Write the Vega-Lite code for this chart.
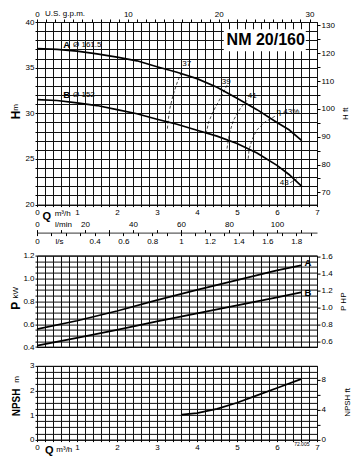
{
 "$schema": "https://vega.github.io/schema/vega-lite/v6.json",
 "padding": {"left": 9, "top": 8, "right": 0, "bottom": 0},
 "background": "white",
 "bounds": "flush",
 "spacing": 18.3,
 "config": {
  "font": "Liberation Sans",
  "view": {"stroke": "#000", "strokeWidth": 1},
  "axis": {"gridColor": "#111", "gridWidth": 1, "gridOpacity": 1, "domainColor": "#000", "tickColor": "#000", "labelColor": "#000", "labelFontSize": 8, "labelOverlap": false, "labelPadding": 1, "tickSize": 3, "titleColor": "#000", "labelFlush": false, "titleFontWeight": "normal", "titleFontSize": 8}
 },
 "datasets": {
  "curves": [
   {"panel":"H","curve":"A","Q":0,"v":37.1},{"panel":"H","curve":"A","Q":0.5,"v":37.0},{"panel":"H","curve":"A","Q":1,"v":36.8},{"panel":"H","curve":"A","Q":1.5,"v":36.5},{"panel":"H","curve":"A","Q":2,"v":36.15},{"panel":"H","curve":"A","Q":2.5,"v":35.75},{"panel":"H","curve":"A","Q":3,"v":35.1},{"panel":"H","curve":"A","Q":3.5,"v":34.5},{"panel":"H","curve":"A","Q":4,"v":33.8},{"panel":"H","curve":"A","Q":4.5,"v":32.85},{"panel":"H","curve":"A","Q":5,"v":31.65},{"panel":"H","curve":"A","Q":5.5,"v":30.4},{"panel":"H","curve":"A","Q":6,"v":29.0},{"panel":"H","curve":"A","Q":6.3,"v":28.2},{"panel":"H","curve":"A","Q":6.62,"v":27.0},
   {"panel":"H","curve":"B","Q":0,"v":31.5},{"panel":"H","curve":"B","Q":0.5,"v":31.4},{"panel":"H","curve":"B","Q":1,"v":31.15},{"panel":"H","curve":"B","Q":1.5,"v":30.85},{"panel":"H","curve":"B","Q":2,"v":30.4},{"panel":"H","curve":"B","Q":2.5,"v":29.95},{"panel":"H","curve":"B","Q":3,"v":29.35},{"panel":"H","curve":"B","Q":3.5,"v":28.8},{"panel":"H","curve":"B","Q":4,"v":28.15},{"panel":"H","curve":"B","Q":4.5,"v":27.5},{"panel":"H","curve":"B","Q":5,"v":26.7},{"panel":"H","curve":"B","Q":5.5,"v":25.65},{"panel":"H","curve":"B","Q":6,"v":24.3},{"panel":"H","curve":"B","Q":6.3,"v":23.3},{"panel":"H","curve":"B","Q":6.62,"v":22.0},
   {"panel":"eta","curve":"37","Q":3.26,"v":28.32},{"panel":"eta","curve":"37","Q":3.28,"v":29.23},{"panel":"eta","curve":"37","Q":3.32,"v":30.51},{"panel":"eta","curve":"37","Q":3.40,"v":31.97},{"panel":"eta","curve":"37","Q":3.51,"v":33.43},{"panel":"eta","curve":"37","Q":3.63,"v":34.71},
   {"panel":"eta","curve":"39","Q":4.23,"v":27.78},{"panel":"eta","curve":"39","Q":4.29,"v":29.05},{"panel":"eta","curve":"39","Q":4.42,"v":30.33},{"panel":"eta","curve":"39","Q":4.58,"v":31.61},{"panel":"eta","curve":"39","Q":4.75,"v":33.07},
   {"panel":"eta","curve":"41","Q":4.75,"v":26.14},{"panel":"eta","curve":"41","Q":4.81,"v":27.78},{"panel":"eta","curve":"41","Q":4.91,"v":29.23},{"panel":"eta","curve":"41","Q":5.08,"v":30.51},{"panel":"eta","curve":"41","Q":5.28,"v":31.61},
   {"panel":"eta","curve":"43","Q":5.28,"v":25.04},{"panel":"eta","curve":"43","Q":5.30,"v":25.95},{"panel":"eta","curve":"43","Q":5.37,"v":27.04},{"panel":"eta","curve":"43","Q":5.49,"v":28.14},{"panel":"eta","curve":"43","Q":5.70,"v":29.05},{"panel":"eta","curve":"43","Q":5.99,"v":29.78},
   {"panel":"eta","curve":"43b","Q":6.33,"v":22.4},{"panel":"eta","curve":"43b","Q":6.58,"v":23.05},
   {"panel":"P","curve":"A","Q":0,"v":0.557},{"panel":"P","curve":"A","Q":1,"v":0.63},{"panel":"P","curve":"A","Q":2,"v":0.715},{"panel":"P","curve":"A","Q":3,"v":0.81},{"panel":"P","curve":"A","Q":4,"v":0.9},{"panel":"P","curve":"A","Q":5,"v":0.985},{"panel":"P","curve":"A","Q":6,"v":1.07},{"panel":"P","curve":"A","Q":6.6,"v":1.115},
   {"panel":"P","curve":"B","Q":0,"v":0.412},{"panel":"P","curve":"B","Q":1,"v":0.48},{"panel":"P","curve":"B","Q":2,"v":0.55},{"panel":"P","curve":"B","Q":3,"v":0.625},{"panel":"P","curve":"B","Q":4,"v":0.695},{"panel":"P","curve":"B","Q":5,"v":0.765},{"panel":"P","curve":"B","Q":6,"v":0.835},{"panel":"P","curve":"B","Q":6.6,"v":0.878},
   {"panel":"N","curve":"N","Q":3.62,"v":1.02},{"panel":"N","curve":"N","Q":4.0,"v":1.08},{"panel":"N","curve":"N","Q":4.5,"v":1.25},{"panel":"N","curve":"N","Q":5.0,"v":1.5},{"panel":"N","curve":"N","Q":5.5,"v":1.8},{"panel":"N","curve":"N","Q":6.0,"v":2.1},{"panel":"N","curve":"N","Q":6.6,"v":2.46}
  ],
  "labels": [
   {"panel":"H","g":"big","text":"NM 20/160","Q":4.74,"v":38.0},
   {"panel":"H","g":"bold","text":"A","Q":0.656,"v":37.45},
   {"panel":"H","g":"bold","text":"B","Q":0.656,"v":32.05},
   {"panel":"H","g":"norm","text":"Ø 161.5","Q":0.9,"v":37.45},
   {"panel":"H","g":"norm","text":"Ø 152","Q":0.9,"v":32.05},
   {"panel":"H","g":"norm","text":"37","Q":3.63,"v":35.4},
   {"panel":"H","g":"norm","text":"39","Q":4.62,"v":33.47},
   {"panel":"H","g":"norm","text":"41","Q":5.27,"v":31.94},
   {"panel":"H","g":"norm","text":"η 43%","Q":5.99,"v":30.11},
   {"panel":"H","g":"norm","text":"43","Q":6.07,"v":22.33},
   {"panel":"P","g":"bold","text":"A","Q":6.69,"v":1.135},
   {"panel":"P","g":"bold","text":"B","Q":6.69,"v":0.872},
   {"panel":"N","g":"tiny","text":"72.005","Q":6.62,"v":-0.19}
  ]
 },
 "vconcat": [
  {
   "width": 280, "height": 182.6,
   "resolve": {"scale": {"x": "independent", "y": "independent"}},
   "layer": [
    {
     "data": {"name": "curves"},
     "transform": [{"filter": "datum.panel === 'H'"}],
     "mark": {"type": "line", "color": "#000", "strokeWidth": 1.7},
     "encoding": {
      "x": {"field": "Q", "type": "quantitative", "scale": {"domain": [0, 7], "nice": false, "zero": false},
       "axis": {"orient": "bottom", "values": [0,0.2,0.4,0.6,0.8,1,1.2,1.4,1.6,1.8,2,2.2,2.4,2.6,2.8,3,3.2,3.4,3.6,3.8,4,4.2,4.4,4.6,4.8,5,5.2,5.4,5.6,5.8,6,6.2,6.4,6.6,6.8,7], "labelExpr": "datum.value % 1 === 0 ? format(datum.value,'d') : ''", "grid": true, "domain": false, "tickSize": 2, "labelPadding": 2, "title": "Q", "titleFontSize": 11, "titleFontWeight": "bold", "titleX": 9.2, "titleY": 11.4, "titleBaseline": "middle", "titleAlign": "center", "titleAngle": 0}},
      "y": {"field": "v", "type": "quantitative", "scale": {"domain": [20, 40], "nice": false, "zero": false},
       "axis": {"orient": "left", "values": [20,21,22,23,24,25,26,27,28,29,30,31,32,33,34,35,36,37,38,39,40], "labelExpr": "datum.value % 5 === 0 ? format(datum.value,'d') : ''", "grid": true, "domain": false, "tickSize": 2, "title": "H", "titleFontSize": 12, "titleFontWeight": "bold", "titleX": -21.5, "titleY": 92.3, "titleAngle": 270, "titleBaseline": "middle", "titleAlign": "center"}},
      "detail": {"field": "curve"}
     }
    },
    {
     "data": {"name": "curves"},
     "transform": [{"filter": "datum.panel === 'eta'"}],
     "mark": {"type": "line", "color": "#000", "strokeWidth": 0.7, "strokeDash": [3, 2]},
     "encoding": {
      "x": {"field": "Q", "type": "quantitative", "scale": {"domain": [0, 7], "nice": false, "zero": false}, "axis": null},
      "y": {"field": "v", "type": "quantitative", "scale": {"domain": [20, 40], "nice": false, "zero": false}, "axis": null},
      "detail": {"field": "curve"}
     }
    },
    {
     "data": {"values": [{"q1": 4.67, "q2": 6.72, "h1": 36.8, "h2": 39.2}]},
     "mark": {"type": "rect", "fill": "white"},
     "encoding": {
      "x": {"field": "q1", "type": "quantitative", "scale": {"domain": [0, 7], "nice": false, "zero": false}, "axis": null},
      "x2": {"field": "q2"},
      "y": {"field": "h1", "type": "quantitative", "scale": {"domain": [20, 40], "nice": false, "zero": false}, "axis": null},
      "y2": {"field": "h2"}
     }
    },
    {
     "data": {"name": "labels"},
     "transform": [{"filter": "datum.panel === 'H' && datum.g === 'big'"}],
     "mark": {"type": "text", "align": "left", "baseline": "middle", "fontSize": 16, "fontWeight": "bold", "color": "#000"},
     "encoding": {
      "x": {"field": "Q", "type": "quantitative", "scale": {"domain": [0, 7], "nice": false, "zero": false}, "axis": null},
      "y": {"field": "v", "type": "quantitative", "scale": {"domain": [20, 40], "nice": false, "zero": false}, "axis": null},
      "text": {"field": "text"}
     }
    },
    {
     "data": {"name": "labels"},
     "transform": [{"filter": "datum.panel === 'H' && datum.g === 'bold'"}],
     "mark": {"type": "text", "align": "left", "baseline": "middle", "fontSize": 9.5, "fontWeight": "bold", "color": "#000"},
     "encoding": {
      "x": {"field": "Q", "type": "quantitative", "scale": {"domain": [0, 7], "nice": false, "zero": false}, "axis": null},
      "y": {"field": "v", "type": "quantitative", "scale": {"domain": [20, 40], "nice": false, "zero": false}, "axis": null},
      "text": {"field": "text"}
     }
    },
    {
     "data": {"name": "labels"},
     "transform": [{"filter": "datum.panel === 'H' && datum.g === 'norm'"}],
     "mark": {"type": "text", "align": "left", "baseline": "middle", "fontSize": 8, "color": "#000"},
     "encoding": {
      "x": {"field": "Q", "type": "quantitative", "scale": {"domain": [0, 7], "nice": false, "zero": false}, "axis": null},
      "y": {"field": "v", "type": "quantitative", "scale": {"domain": [20, 40], "nice": false, "zero": false}, "axis": null},
      "text": {"field": "text"}
     }
    },
    {
     "data": {"values": [{"gpm": 0, "ft": 65.62}, {"gpm": 30.82, "ft": 131.23}]},
     "mark": {"type": "point", "opacity": 0},
     "encoding": {
      "x": {"field": "gpm", "type": "quantitative", "scale": {"domain": [0, 30.82], "nice": false, "zero": false},
       "axis": {"orient": "top", "values": [0,1,2,3,4,5,6,7,8,9,10,11,12,13,14,15,16,17,18,19,20,21,22,23,24,25,26,27,28,29,30], "labelExpr": "datum.value % 10 === 0 ? format(datum.value,'d') : ''", "grid": false, "domain": false, "tickSize": 3, "labelPadding": 1, "title": "U.S. g.p.m.", "titleX": 27.5, "titleY": -8.7, "titleBaseline": "middle", "titleAlign": "center"}},
      "y": {"field": "ft", "type": "quantitative", "scale": {"domain": [65.62, 131.23], "nice": false, "zero": false},
       "axis": {"orient": "right", "values": [70,75,80,85,90,95,100,105,110,115,120,125,130], "labelExpr": "datum.value % 10 === 0 ? format(datum.value,'d') : ''", "grid": false, "domain": false, "tickSize": 3, "title": "H ft", "titleX": 28, "titleY": 91.3, "titleAngle": 270, "titleBaseline": "middle", "titleAlign": "center"}}
     }
    },
    {
     "data": {"values": [{"lpm": 0, "h": 20}, {"lpm": 116.67, "h": 40}]},
     "mark": {"type": "point", "opacity": 0},
     "encoding": {
      "x": {"field": "lpm", "type": "quantitative", "scale": {"domain": [0, 116.67], "nice": false, "zero": false},
       "axis": {"orient": "top", "offset": -210.6, "values": [0,10,20,30,40,50,60,70,80,90,100,110], "labelExpr": "datum.value % 20 === 0 ? format(datum.value,'d') : ''", "grid": false, "domain": true, "domainWidth": 0.8, "tickSize": 3, "labelPadding": 1, "title": "l/min", "titleX": 26, "titleY": -8, "titleBaseline": "middle", "titleAlign": "center"}},
      "y": {"field": "h", "type": "quantitative", "scale": {"domain": [20, 40], "nice": false, "zero": false}, "axis": null}
     }
    },
    {
     "data": {"values": [{"lps": 0, "h": 20}, {"lps": 1.9444, "h": 40}]},
     "mark": {"type": "point", "opacity": 0},
     "encoding": {
      "x": {"field": "lps", "type": "quantitative", "scale": {"domain": [0, 1.9444], "nice": false, "zero": false},
       "axis": {"orient": "bottom", "offset": 28, "values": [0,0.1,0.2,0.3,0.4,0.5,0.6,0.7,0.8,0.9,1,1.1,1.2,1.3,1.4,1.5,1.6,1.7,1.8,1.9], "labelExpr": "indexof([0,0.4,0.6,0.8,1,1.2,1.4,1.6,1.8], datum.value) >= 0 ? format(datum.value,'~g') : ''", "grid": false, "domain": false, "tickSize": 3, "labelPadding": 2, "title": "l/s", "titleX": 22, "titleY": 8.4, "titleBaseline": "middle", "titleAlign": "center"}},
      "y": {"field": "h", "type": "quantitative", "scale": {"domain": [20, 40], "nice": false, "zero": false}, "axis": null}
     }
    },
    {
     "data": {"values": [{"q": 0, "h": 20}, {"q": 7, "h": 40}]},
     "mark": {"type": "point", "opacity": 0},
     "encoding": {
      "x": {"field": "q", "type": "quantitative", "scale": {"domain": [0, 7], "nice": false, "zero": false},
       "axis": {"orient": "bottom", "labels": false, "ticks": false, "domain": false, "grid": false, "title": "m³/h", "titleX": 25.2, "titleY": 8.4, "titleBaseline": "middle", "titleAlign": "center"}},
      "y": {"field": "h", "type": "quantitative", "scale": {"domain": [20, 40], "nice": false, "zero": false},
       "axis": {"orient": "left", "labels": false, "ticks": false, "domain": false, "grid": false, "title": "m", "titleX": -21.5, "titleY": 84.8, "titleAngle": 270, "titleBaseline": "middle", "titleAlign": "center"}}
     }
    }
   ]
  },
  {
   "width": 280, "height": 13.4,
   "view": {"stroke": null},
   "data": {"values": [{"a": 0, "b": 0}]},
   "mark": {"type": "point", "opacity": 0},
   "encoding": {
    "x": {"field": "a", "type": "quantitative", "axis": null},
    "y": {"field": "b", "type": "quantitative", "axis": null}
   }
  },
  {
   "width": 280, "height": 91.4,
   "resolve": {"scale": {"x": "independent", "y": "independent"}},
   "layer": [
    {
     "data": {"name": "curves"},
     "transform": [{"filter": "datum.panel === 'P'"}],
     "mark": {"type": "line", "color": "#000", "strokeWidth": 1.7},
     "encoding": {
      "x": {"field": "Q", "type": "quantitative", "scale": {"domain": [0, 7], "nice": false, "zero": false},
       "axis": {"orient": "bottom", "values": [0,0.2,0.4,0.6,0.8,1,1.2,1.4,1.6,1.8,2,2.2,2.4,2.6,2.8,3,3.2,3.4,3.6,3.8,4,4.2,4.4,4.6,4.8,5,5.2,5.4,5.6,5.8,6,6.2,6.4,6.6,6.8,7], "labelExpr": "''", "grid": true, "domain": false, "tickSize": 0, "title": null}},
      "y": {"field": "v", "type": "quantitative", "scale": {"domain": [0.4, 1.2], "nice": false, "zero": false},
       "axis": {"orient": "left", "values": [0.4,0.45,0.5,0.55,0.6,0.65,0.7,0.75,0.8,0.85,0.9,0.95,1,1.05,1.1,1.15,1.2], "labelExpr": "indexof([0.4,0.6,0.8,1,1.2], datum.value) >= 0 ? format(datum.value,'.1f') : ''", "grid": true, "domain": false, "tickSize": 2, "title": "P", "titleFontSize": 12, "titleFontWeight": "bold", "titleX": -21.5, "titleY": 49.7, "titleAngle": 270, "titleBaseline": "middle", "titleAlign": "center"}},
      "detail": {"field": "curve"}
     }
    },
    {
     "data": {"name": "labels"},
     "transform": [{"filter": "datum.panel === 'P'"}],
     "mark": {"type": "text", "align": "left", "baseline": "middle", "fontSize": 9.5, "fontWeight": "bold", "color": "#000"},
     "encoding": {
      "x": {"field": "Q", "type": "quantitative", "scale": {"domain": [0, 7], "nice": false, "zero": false}, "axis": null},
      "y": {"field": "v", "type": "quantitative", "scale": {"domain": [0.4, 1.2], "nice": false, "zero": false}, "axis": null},
      "text": {"field": "text"}
     }
    },
    {
     "data": {"values": [{"q": 0, "hp": 0.5364}, {"q": 7, "hp": 1.6093}]},
     "mark": {"type": "point", "opacity": 0},
     "encoding": {
      "x": {"field": "q", "type": "quantitative", "scale": {"domain": [0, 7], "nice": false, "zero": false}, "axis": null},
      "y": {"field": "hp", "type": "quantitative", "scale": {"domain": [0.5364, 1.6093], "nice": false, "zero": false},
       "axis": {"orient": "right", "values": [0.6,0.8,1,1.2,1.4,1.6], "labelExpr": "format(datum.value,'.1f')", "grid": false, "domain": false, "tickSize": 3, "title": "P HP", "titleX": 26, "titleY": 45.7, "titleAngle": 270, "titleBaseline": "middle", "titleAlign": "center"}}
     }
    },
    {
     "data": {"values": [{"q": 0, "kw": 0.4}, {"q": 7, "kw": 1.2}]},
     "mark": {"type": "point", "opacity": 0},
     "encoding": {
      "x": {"field": "q", "type": "quantitative", "scale": {"domain": [0, 7], "nice": false, "zero": false}, "axis": null},
      "y": {"field": "kw", "type": "quantitative", "scale": {"domain": [0.4, 1.2], "nice": false, "zero": false},
       "axis": {"orient": "left", "labels": false, "ticks": false, "domain": false, "grid": false, "title": "kW", "titleX": -21.5, "titleY": 36.7, "titleAngle": 270, "titleBaseline": "middle", "titleAlign": "center"}}
     }
    }
   ]
  },
  {
   "width": 280, "height": 73.7,
   "resolve": {"scale": {"y": "independent", "x": "independent"}},
   "layer": [
    {
     "data": {"name": "curves"},
     "transform": [{"filter": "datum.panel === 'N'"}],
     "mark": {"type": "line", "color": "#000", "strokeWidth": 1.7},
     "encoding": {
      "x": {"field": "Q", "type": "quantitative", "scale": {"domain": [0, 7], "nice": false, "zero": false},
       "axis": {"orient": "bottom", "values": [0,0.2,0.4,0.6,0.8,1,1.2,1.4,1.6,1.8,2,2.2,2.4,2.6,2.8,3,3.2,3.4,3.6,3.8,4,4.2,4.4,4.6,4.8,5,5.2,5.4,5.6,5.8,6,6.2,6.4,6.6,6.8,7], "labelExpr": "datum.value % 1 === 0 ? format(datum.value,'d') : ''", "grid": true, "domain": false, "tickSize": 2, "labelPadding": 2, "title": "Q", "titleFontSize": 11, "titleFontWeight": "bold", "titleX": 11.8, "titleY": 10.6, "titleBaseline": "middle", "titleAlign": "center", "titleAngle": 0}},
      "y": {"field": "v", "type": "quantitative", "scale": {"domain": [0, 3], "nice": false, "zero": false},
       "axis": {"orient": "left", "values": [0,0.25,0.5,0.75,1,1.25,1.5,1.75,2,2.25,2.5,2.75,3], "labelExpr": "datum.value % 1 === 0 ? format(datum.value,'d') : ''", "grid": true, "domain": false, "tickSize": 2, "title": "NPSH", "titleFontSize": 10, "titleFontWeight": "bold", "titleX": -20.5, "titleY": 36, "titleAngle": 270, "titleBaseline": "middle", "titleAlign": "center"}}
     }
    },
    {
     "data": {"name": "labels"},
     "transform": [{"filter": "datum.panel === 'N'"}],
     "mark": {"type": "text", "align": "center", "baseline": "middle", "fontSize": 5, "color": "#000"},
     "encoding": {
      "x": {"field": "Q", "type": "quantitative", "scale": {"domain": [0, 7], "nice": false, "zero": false}, "axis": null},
      "y": {"field": "v", "type": "quantitative", "scale": {"domain": [0, 3], "nice": false, "zero": false}, "axis": null},
      "text": {"field": "text"}
     }
    },
    {
     "data": {"values": [{"q": 0, "ft": 0}, {"q": 7, "ft": 9.8425}]},
     "mark": {"type": "point", "opacity": 0},
     "encoding": {
      "x": {"field": "q", "type": "quantitative", "scale": {"domain": [0, 7], "nice": false, "zero": false}, "axis": null},
      "y": {"field": "ft", "type": "quantitative", "scale": {"domain": [0, 9.8425], "nice": false, "zero": false},
       "axis": {"orient": "right", "values": [0,2,4,6,8], "labelExpr": "datum.value % 4 === 0 ? format(datum.value,'d') : ''", "grid": false, "domain": false, "tickSize": 3, "title": "NPSH ft", "titleX": 30, "titleY": 36, "titleAngle": 270, "titleBaseline": "middle", "titleAlign": "center"}}
     }
    },
    {
     "data": {"values": [{"q": 0, "m": 0}, {"q": 7, "m": 3}]},
     "mark": {"type": "point", "opacity": 0},
     "encoding": {
      "x": {"field": "q", "type": "quantitative", "scale": {"domain": [0, 7], "nice": false, "zero": false},
       "axis": {"orient": "bottom", "labels": false, "ticks": false, "domain": false, "grid": false, "title": "m³/h", "titleX": 26.8, "titleY": 10.3, "titleBaseline": "middle", "titleAlign": "center"}},
      "y": {"field": "m", "type": "quantitative", "scale": {"domain": [0, 3], "nice": false, "zero": false},
       "axis": {"orient": "left", "labels": false, "ticks": false, "domain": false, "grid": false, "title": "m", "titleX": -20.5, "titleY": 13, "titleAngle": 270, "titleBaseline": "middle", "titleAlign": "center"}}
     }
    }
   ]
  }
 ]
}
